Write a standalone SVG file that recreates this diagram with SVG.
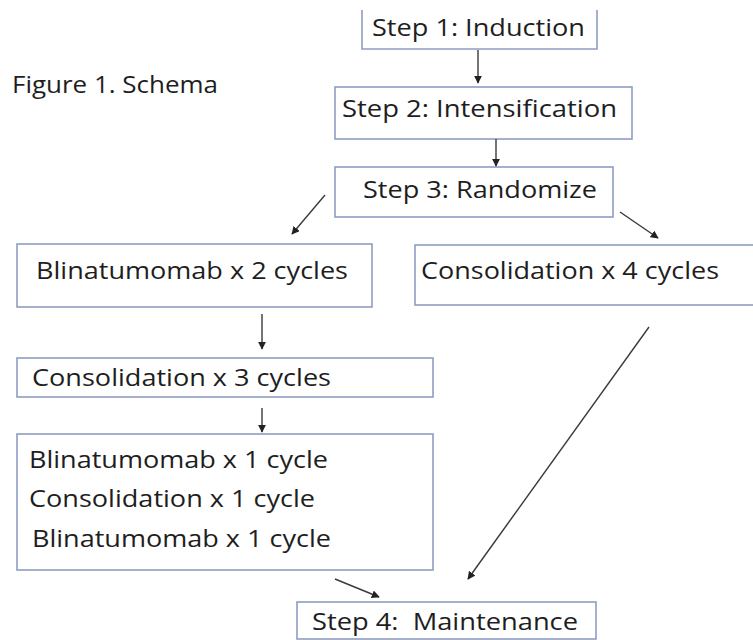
<svg xmlns="http://www.w3.org/2000/svg" width="753" height="640" viewBox="0 0 753 640">
<style>
.box{fill:#ffffff;stroke:#8e9dc2;stroke-width:1.6}
.t{font-family:"Open Sans","Noto Sans","Liberation Sans",sans-serif;font-size:24px;fill:#1e1e1e;white-space:pre}
.c{stroke:#3a3a3a;stroke-width:1.4;fill:none;marker-end:url(#ah)}
</style>
<defs>
<marker id="ah" viewBox="0 0 10 10" refX="9" refY="5" markerWidth="8" markerHeight="8" markerUnits="userSpaceOnUse" orient="auto">
<path d="M0,0 L10,5 L0,10 z" fill="#222"/>
</marker>
</defs>
<rect width="753" height="640" fill="#ffffff"/>
<text class="t" x="12" y="93" textLength="206" lengthAdjust="spacingAndGlyphs">Figure 1. Schema</text>
<g id="step1">
<path class="box" d="M362,10 L362,49 L597,49 L597,10"/>
<text class="t" x="372" y="36" textLength="213" lengthAdjust="spacingAndGlyphs">Step 1: Induction</text>
</g>
<g id="step2">
<rect class="box" x="335" y="87" width="297" height="52"/>
<text class="t" x="342" y="117" textLength="275" lengthAdjust="spacingAndGlyphs">Step 2: Intensification</text>
</g>
<g id="step3">
<rect class="box" x="335" y="167" width="278" height="50"/>
<text class="t" x="363" y="198" textLength="234" lengthAdjust="spacingAndGlyphs">Step 3: Randomize</text>
</g>
<g id="blina2">
<rect class="box" x="17" y="244" width="355" height="63"/>
<text class="t" x="36" y="279" textLength="312" lengthAdjust="spacingAndGlyphs">Blinatumomab x 2 cycles</text>
</g>
<g id="consol4">
<rect class="box" x="415" y="245" width="345" height="60"/>
<text class="t" x="421" y="279" textLength="298" lengthAdjust="spacingAndGlyphs">Consolidation x 4 cycles</text>
</g>
<g id="consol3">
<rect class="box" x="17" y="358" width="416" height="39"/>
<text class="t" x="32" y="386" textLength="299" lengthAdjust="spacingAndGlyphs">Consolidation x 3 cycles</text>
</g>
<g id="combo">
<rect class="box" x="17" y="434" width="416" height="136"/>
<text class="t" x="29" y="468" textLength="299" lengthAdjust="spacingAndGlyphs">Blinatumomab x 1 cycle</text>
<text class="t" x="29" y="507" textLength="286" lengthAdjust="spacingAndGlyphs">Consolidation x 1 cycle</text>
<text class="t" x="32" y="547" textLength="299" lengthAdjust="spacingAndGlyphs">Blinatumomab x 1 cycle</text>
</g>
<g id="step4">
<rect class="box" x="297" y="602" width="299" height="37"/>
<text class="t" x="312" y="630" textLength="266" lengthAdjust="spacingAndGlyphs" xml:space="preserve">Step 4:  Maintenance</text>
</g>
<g id="connectors">
<line class="c" x1="478" y1="50" x2="478" y2="83"/>
<line class="c" x1="496" y1="139" x2="496" y2="166"/>
<line class="c" x1="325" y1="195" x2="292" y2="234"/>
<line class="c" x1="620" y1="212" x2="658" y2="238"/>
<line class="c" x1="262" y1="314" x2="262" y2="349"/>
<line class="c" x1="262" y1="408" x2="262" y2="432"/>
<line class="c" x1="335" y1="579" x2="379" y2="597"/>
<line class="c" x1="649" y1="327" x2="468" y2="579"/>
</g>
</svg>
